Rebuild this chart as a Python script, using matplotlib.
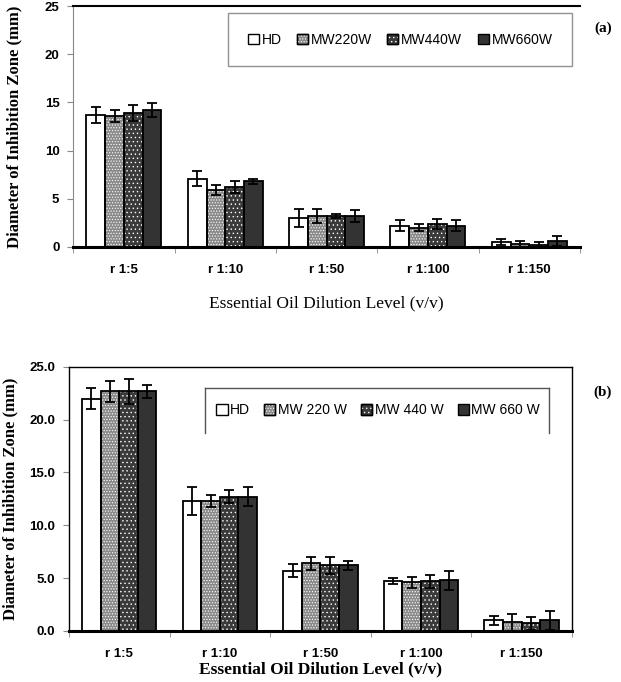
import matplotlib
matplotlib.use("Agg")
import matplotlib.pyplot as plt
import numpy as np
from matplotlib.patches import Patch
from matplotlib.legend_handler import HandlerTuple
from matplotlib.lines import Line2D

categories = ["r 1:5", "r 1:10", "r 1:50", "r 1:100", "r 1:150"]
series = ["HD", "MW 220 W", "MW 440 W", "MW 660 W"]

# panel (a)
a_vals = {
    "HD":       [13.7, 7.1, 3.0, 2.2, 0.5],
    "MW 220 W": [13.6, 5.9, 3.2, 2.0, 0.3],
    "MW 440 W": [13.9, 6.2, 3.2, 2.4, 0.2],
    "MW 660 W": [14.2, 6.8, 3.2, 2.2, 0.6],
}
a_err = {
    "HD":       [0.8, 0.8, 0.9, 0.6, 0.3],
    "MW 220 W": [0.6, 0.5, 0.7, 0.4, 0.3],
    "MW 440 W": [0.8, 0.6, 0.2, 0.5, 0.3],
    "MW 660 W": [0.7, 0.3, 0.6, 0.6, 0.5],
}
# panel (b)
b_vals = {
    "HD":       [22.0, 12.3, 5.7, 4.7, 1.0],
    "MW 220 W": [22.7, 12.3, 6.4, 4.6, 0.8],
    "MW 440 W": [22.7, 12.7, 6.2, 4.7, 0.7],
    "MW 660 W": [22.7, 12.7, 6.2, 4.8, 1.0],
}
b_err = {
    "HD":       [1.0, 1.3, 0.6, 0.3, 0.4],
    "MW 220 W": [1.0, 0.6, 0.6, 0.5, 0.8],
    "MW 440 W": [1.2, 0.6, 0.8, 0.6, 0.6],
    "MW 660 W": [0.6, 0.9, 0.4, 0.9, 0.9],
}

styles = {
    "HD":       dict(face="white", hatch=None),
    "MW 220 W": dict(face="#8a8a8a", hatch="......"),
    "MW 440 W": dict(face="#3a3a3a", hatch="...."),
    "MW 660 W": dict(face="#333333", hatch=None),
}

plt.rcParams["hatch.linewidth"] = 0.5
serif = "Liberation Serif"
sans = "Liberation Sans"

fig = plt.figure(figsize=(6.21, 6.82), dpi=100)

def draw_panel(ax, vals, errs, fmt):
    x = np.arange(len(categories))
    w = 0.185
    for i, s in enumerate(series):
        pos = x + (i - 1.5) * w
        st = styles[s]
        ax.bar(pos, vals[s], w, color=st["face"], edgecolor="none", zorder=2)
        if st["hatch"]:
            ax.bar(pos, vals[s], w, fill=False, edgecolor="white", hatch=st["hatch"], linewidth=0, zorder=3)
        ax.bar(pos, vals[s], w, fill=False, edgecolor="black", linewidth=1.3, zorder=4)
        ax.errorbar(pos, vals[s], yerr=errs[s], fmt="none", ecolor="black", elinewidth=1.3, capsize=3.5, capthick=1.3, zorder=5)
    ax.set_xlim(-0.5, len(categories) - 0.5)
    ax.set_ylim(0, 25)
    ax.set_yticks([0, 5, 10, 15, 20, 25])
    ax.set_yticklabels([fmt.format(v) for v in [0, 5, 10, 15, 20, 25]], fontfamily=sans, fontweight="bold", fontsize=9.5)
    ax.set_xticks(x)
    ax.set_xticklabels(categories, fontfamily=sans, fontweight="bold", fontsize=9.5)
    ax.tick_params(axis="x", length=0, pad=12)
    ax.set_xticks(np.arange(len(categories) + 1) - 0.5, minor=True)
    ax.tick_params(axis="x", which="minor", length=4, color="#888888", direction="out")
    ax.tick_params(axis="y", length=4, direction="out", color="#888888", pad=6)
    ax.spines["bottom"].set_linewidth(2.2)
    ax.spines["bottom"].set_color("black")
    ax.set_ylabel("Diameter of Inhibition Zone (mm)", fontfamily=serif, fontweight="bold", fontsize=12)

def legend_handles():
    hs = []
    for s in series:
        st = styles[s]
        face = Patch(facecolor=st["face"], edgecolor="black", linewidth=1.0)
        if st["hatch"]:
            hat = Patch(fill=False, edgecolor="white", hatch=st["hatch"], linewidth=0)
            out = Patch(fill=False, edgecolor="black", linewidth=1.0)
            hs.append((face, hat, out))
        else:
            hs.append(face)
    return hs

# ---- panel (a)
axa = fig.add_axes([0.118, 0.638, 0.816, 0.353])
draw_panel(axa, a_vals, a_err, "{:d}")
axa.set_xlabel("Essential Oil Dilution Level (v/v)", fontfamily=serif, fontsize=12.5)
axa.spines["right"].set_visible(False)
axa.spines["top"].set_color("black")
axa.spines["top"].set_linewidth(1.5)
axa.spines["left"].set_color("#888888")
axa.yaxis.set_label_coords(-0.1, 0.5)
axa.xaxis.set_label_coords(0.5, -0.2)
leg = axa.legend(legend_handles(), ["HD", "MW220W", "MW440W", "MW660W"],
                 handler_map={tuple: HandlerTuple(ndivide=1)},
                 loc="center", bbox_to_anchor=(0.645, 0.86), ncol=4,
                 prop={"family": sans, "size": 10}, handlelength=0.8, handleheight=0.8,
                 handletextpad=0.2, columnspacing=1.1, borderpad=1.4,
                 frameon=True, fancybox=False, edgecolor="#777777")
leg.get_frame().set_linewidth(1.0)
fig.text(0.985, 0.958, "(a)", fontfamily=serif, fontweight="bold", fontsize=11, ha="right", va="center")

# ---- panel (b)
axb = fig.add_axes([0.111, 0.075, 0.810, 0.387])
draw_panel(axb, b_vals, b_err, "{:.1f}")
axb.set_xlabel("Essential Oil Dilution Level (v/v)", fontfamily=serif, fontweight="bold", fontsize=12.5)
for sp in ["left", "top", "right"]:
    axb.spines[sp].set_color("black")
    axb.spines[sp].set_linewidth(1.0)
axb.yaxis.set_label_coords(-0.1, 0.5)
axb.xaxis.set_label_coords(0.5, -0.115)
# bracket around legend
bx0, bx1, by0, by1 = 0.27, 0.955, 0.75, 0.92
axb.add_line(Line2D([bx0, bx1], [by1, by1], transform=axb.transAxes, color="#555555", lw=1.0, zorder=6))
axb.add_line(Line2D([bx0, bx0], [by0, by1], transform=axb.transAxes, color="#555555", lw=1.0, zorder=6))
axb.add_line(Line2D([bx1, bx1], [by0, by1], transform=axb.transAxes, color="#555555", lw=1.0, zorder=6))
axb.legend(legend_handles(), ["HD", "MW 220 W", "MW 440 W", "MW 660 W"],
           handler_map={tuple: HandlerTuple(ndivide=1)},
           loc="center", bbox_to_anchor=(0.615, 0.835), ncol=4,
           prop={"family": sans, "size": 10}, handlelength=0.8, handleheight=0.8,
           handletextpad=0.2, columnspacing=1.0, frameon=False)
fig.text(0.985, 0.425, "(b)", fontfamily=serif, fontweight="bold", fontsize=11, ha="right", va="center")

fig.savefig("out.png", dpi=100)
